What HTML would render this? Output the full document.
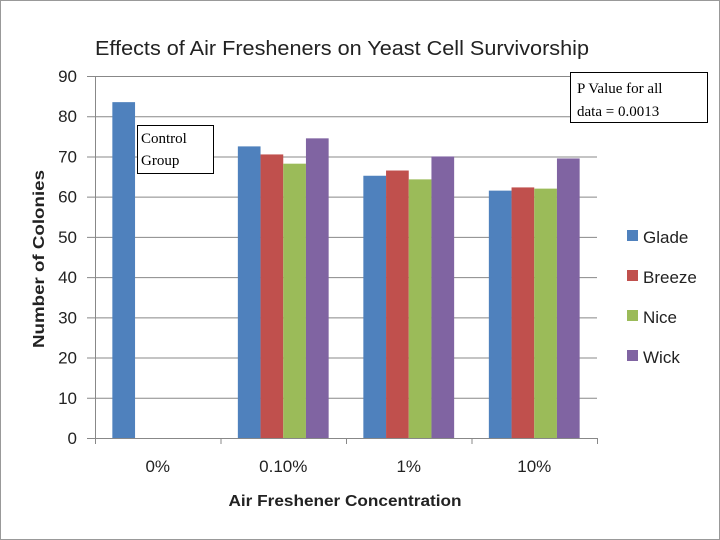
<!DOCTYPE html>
<html><head><meta charset="utf-8"><style>
body{margin:0;background:#fff}
svg{display:block;font-family:"Liberation Sans",sans-serif}
</style></head><body>
<svg id="c" width="720" height="540">
<rect x="0.5" y="0.5" width="719" height="539" fill="#fff" stroke="#999"/>
<text x="342" y="55" font-size="20" textLength="494" lengthAdjust="spacingAndGlyphs" text-anchor="middle" fill="#222">Effects of Air Fresheners on Yeast Cell Survivorship</text>
<text x="44" y="259" font-size="16" font-weight="bold" textLength="178" lengthAdjust="spacingAndGlyphs" text-anchor="middle" transform="rotate(-90 44 259)" fill="#222">Number of Colonies</text>
<text x="345" y="506" font-size="16" font-weight="bold" textLength="233" lengthAdjust="spacingAndGlyphs" text-anchor="middle" fill="#222">Air Freshener Concentration</text>
<g id="grid"></g><g id="bars"></g><g id="ticks"></g>
<g id="legend"></g>
<rect x="137.5" y="125.5" width="76" height="48" fill="#fff" stroke="#000"/>
<text x="141" y="143" font-size="15" font-family="Liberation Serif">Control</text>
<text x="141" y="165" font-size="15" font-family="Liberation Serif">Group</text>
<rect x="570.5" y="72.5" width="137" height="50" fill="#fff" stroke="#000"/>
<text x="577" y="93" font-size="15" font-family="Liberation Serif">P Value for all</text>
<text x="577" y="116" font-size="15" font-family="Liberation Serif">data = 0.0013</text>
</svg>
<script>
const categories=["0%","0.10%","1%","10%"];
const seriesNames=["Glade","Breeze","Nice","Wick"];
const glade=[83.5,72.5,65.2,61.5];
const breeze=[0,70.5,66.5,62.3];
const nice=[0,68.2,64.3,62.0];
const wick=[0,74.5,70.0,69.5];
const yTicks=[0,10,20,30,40,50,60,70,80,90];
const colors=["#4f81bd","#c0504d","#9bbb59","#8064a2"];
const series=[glade,breeze,nice,wick];
const NS="http://www.w3.org/2000/svg";
const x0=95,x1=597,yb=438,yt=76,yMax=90;
const y=v=>yb-(v/yMax)*(yb-yt);
const bandW=(x1-x0)/categories.length;
const cx=i=>x0+bandW*(i+0.5);
const barW=22.7;
function mk(t,a,p){const e=document.createElementNS(NS,t);for(const k in a)e.setAttribute(k,a[k]);p.appendChild(e);return e;}
const grid=document.getElementById('grid'),ticks=document.getElementById('ticks');
yTicks.forEach(v=>{
 const l=mk('line',{x1:x0-8,x2:x1,y1:y(v)+0.5,y2:y(v)+0.5,stroke:'#888','stroke-width':1},grid);
 
 
 const t=mk('text',{x:77,y:y(v)+6,'font-size':17,'text-anchor':'end',fill:'#222'},ticks);
 t.textContent=v;
 
 
});
const ax=mk('line',{x1:x0+0.5,x2:x0+0.5,y1:yt,y2:yb+6,stroke:'#888'},grid);


for(let i=1;i<=categories.length;i++){
 const tk=mk('line',{x1:x0+bandW*i+0.5,x2:x0+bandW*i+0.5,y1:yb,y2:yb+6,stroke:'#888'},grid);
 
 
}
const bars=document.getElementById('bars');
categories.forEach((c,i)=>{
 series.forEach((s,j)=>{
  if(!s[i])return;
  const bx=cx(i)-2*barW+j*barW;
  const r=mk('rect',{x:bx,y:y(s[i]),width:barW,height:yb-y(s[i]),fill:colors[j]},bars);
  
  
 });
 const t=mk('text',{x:cx(i),y:472,'font-size':17,'text-anchor':'middle',fill:'#222'},ticks);
 t.textContent=c;
 
 
});
const lg=document.getElementById('legend');
seriesNames.forEach((n,j)=>{
 const yy=237+j*40;
 const r=mk('rect',{x:627,y:yy-7,width:11,height:11,fill:colors[j]},lg);
 
 
 const t=mk('text',{x:643,y:yy+6,'font-size':17,fill:'#222'},lg);
 t.textContent=n;
 
 
});
</script>
</body></html>
